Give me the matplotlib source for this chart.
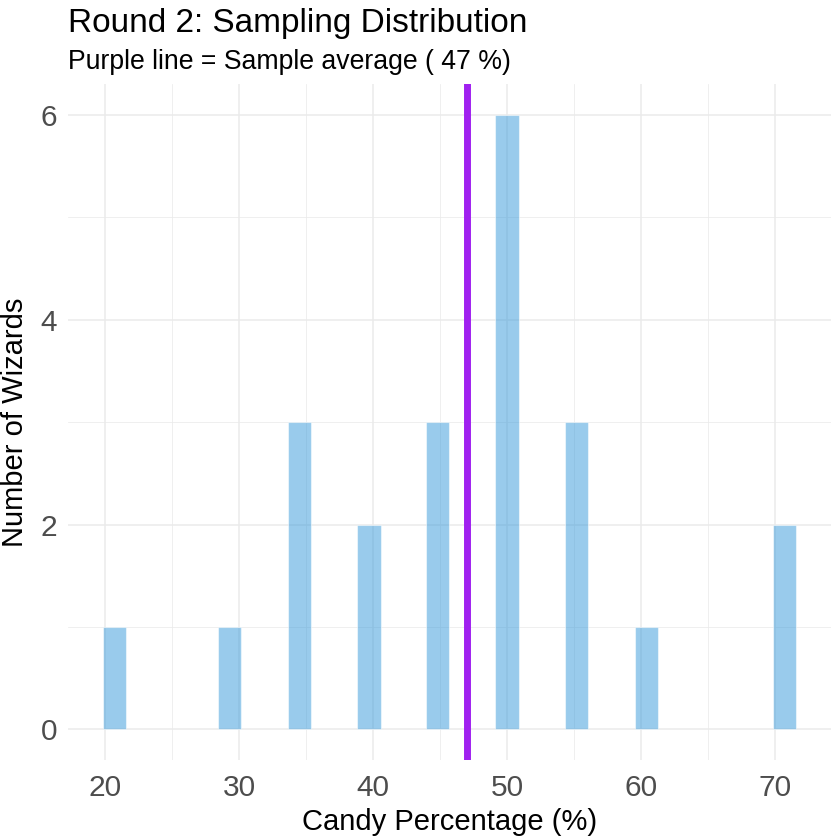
import numpy as np
import matplotlib
matplotlib.use("Agg")
import matplotlib.pyplot as plt
from matplotlib.ticker import MultipleLocator

plt.rcParams['font.family'] = ['Liberation Sans', 'DejaVu Sans']

# histogram bins (bin centres, wizards per bin)
bin_centers = [20.7, 29.3, 34.5, 39.7, 44.8, 50.0, 55.2, 60.4, 70.7]
counts = [1, 1, 3, 2, 3, 6, 3, 1, 2]
bin_width = 50 / 29
sample_mean = 47

x_ticks = [20, 30, 40, 50, 60, 70]
y_ticks = [0, 2, 4, 6]

fig = plt.figure(figsize=(8.4, 8.4), dpi=100)
ax = fig.add_axes([0.081, 0.095, 0.908, 0.805])

ax.bar(bin_centers, counts, width=bin_width, color='#3498db', alpha=0.5,
       edgecolor='white', linewidth=0.8, zorder=2)
ax.axvline(sample_mean, color='#A020F0', linewidth=5.0, zorder=3)

lo = bin_centers[0] - bin_width / 2
hi = bin_centers[-1] + bin_width / 2
pad = (hi - lo) * 0.05
ax.set_xlim(lo - pad, hi + pad)
ax.set_ylim(-0.3, 6.3)

ax.set_xticks(x_ticks)
ax.set_yticks(y_ticks)
ax.xaxis.set_minor_locator(MultipleLocator(5))
ax.yaxis.set_minor_locator(MultipleLocator(1))

ax.grid(which='major', color='#EBEBEB', linewidth=1.1, zorder=0)
ax.grid(which='minor', color='#EBEBEB', linewidth=0.55, zorder=0)
ax.set_axisbelow(True)
for s in ax.spines.values():
    s.set_visible(False)
ax.tick_params(which='both', length=0)
ax.tick_params(axis='both', labelsize=21.5, labelcolor='#4D4D4D')
ax.tick_params(axis='x', pad=10)
ax.tick_params(axis='y', pad=8)

ax.set_xlabel('Candy Percentage (%)', fontsize=21, color='black', labelpad=4)
ax.set_ylabel('Number of Wizards', fontsize=21, color='black', labelpad=8)

fig.text(0.081, 0.962, 'Round 2: Sampling Distribution', fontsize=24,
         ha='left', va='baseline')
fig.text(0.081, 0.918, 'Purple line = Sample average ( 47 %)', fontsize=19.2,
         ha='left', va='baseline')

fig.savefig('out.png', dpi=100)
